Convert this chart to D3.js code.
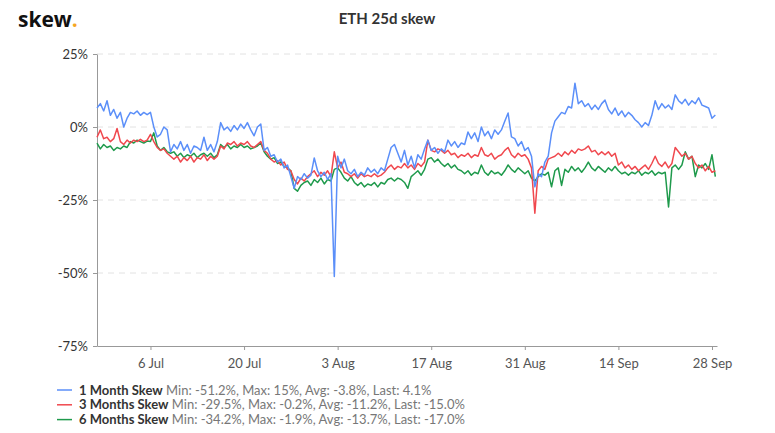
<!DOCTYPE html>
<html><head><meta charset="utf-8">
<script src="https://cdn.jsdelivr.net/npm/d3@7"></script>
<style>
body{margin:0;background:#fff;}
svg{font-family:Lato,"Open Sans",sans-serif;}
</style></head>
<body>
<svg id="c" width="775" height="433"></svg>
<script>
// ---- data (12-hour steps starting 2020-06-28 00:00) ----
const startDate = "2020-06-28T00:00:00";
const stepHours = 12;
const oneMonth = [6.5,8,5.5,9,4,6,3,5,0,3,5,4.5,5.5,4,5,4.2,5,0,-3.4,-2.5,0,-1,-8.5,-6,-7.5,-5,-8,-6,-9,-6.5,-7,-8,-3.5,-8,-6,-8.5,-5,1.5,-1,0,-1.5,0.5,-1,1,-0.5,1.5,-1,-3,0,1,-8,-7,-10,-9.5,-12,-11,-14,-13,-17,-21,-17,-18,-16,-17.5,-16.5,-10.6,-15,-17,-15.5,-18,-16,-51.2,-10,-14,-11,-15,-16,-14.5,-17,-15.5,-16.5,-14,-15.5,-14.5,-16,-14,-15,-11,-7,-6,-9,-12,-8,-13,-10,-14,-9.5,-11,-7.5,-4.5,-8,-7,-9,-7.5,-8.5,-4.5,-6.5,-5,-7,-5.5,-6,-1.7,-4,-2,-5,0,-3,-1.5,-4,-1,-2.5,-1,2,4.8,-3.4,-4,-6.5,-5,-8,-7,-10,-20.5,-16,-17,-12,-10,-2,2,3.5,5,4.5,7,6.5,15,8,9,7,8,6,7.5,6,8,9.2,6,4.5,6.5,4,5.5,3.5,5,4,2.5,1.5,0,1.5,0.5,4,9,6,8,6.5,7.5,6,11,9,8,9.5,7.5,9,8,10,7.5,7,6.5,3,4.1];
const threeMonths = [-3.5,-1,-4,-3.5,-5,-4,-0.5,-5,-6,-4.5,-5.5,-4.5,-5,-4.2,-5,-4.5,-2.5,-5,-7,-8,-7.5,-9,-10,-11,-10,-12,-10.5,-11.5,-10,-12,-10.5,-11,-9.5,-11.5,-10,-11,-10,-6.5,-7.5,-5.5,-6,-5,-6.5,-5.5,-6,-5,-6.5,-7,-6,-5,-8,-9,-11,-12,-11.5,-13,-12,-14.5,-15,-18,-19.5,-17.5,-18.5,-17,-16,-15,-17,-15.5,-16.5,-15,-17,-8.5,-14,-12,-15.5,-16,-17,-16,-17.5,-16,-17,-16.5,-17,-16,-17,-16.5,-15.5,-14,-13,-14.5,-13.5,-14,-12.5,-14,-13,-14.5,-12.5,-13.5,-12,-4.5,-8,-8.5,-7.5,-8,-9,-8,-9.5,-9,-10.5,-9.5,-10,-9,-10.5,-9.5,-10,-7,-9.5,-10,-9,-11,-10,-9.5,-8,-7,-9.5,-10.5,-9,-10,-9.5,-11,-14,-29.5,-15,-13.5,-14.5,-11,-10.5,-10,-9,-10,-8.5,-9.5,-8,-9,-7.5,-8,-7.5,-6.5,-8.5,-8,-9.5,-8.5,-9.5,-8.5,-10,-9,-13,-12,-14,-13,-14.5,-13.5,-15,-14,-13,-14.5,-12.5,-10,-12.5,-13.5,-12,-14,-12.5,-7,-8.5,-10,-9,-11,-10,-12.5,-14,-13,-15,-13.5,-15.5,-15];
const sixMonths = [-5.5,-7.5,-6,-7,-6.5,-8,-7,-7.5,-6.5,-7,-5,-5.5,-4.5,-5,-5.5,-4.8,-5,-2,-6.5,-8,-7,-8.5,-9,-8.5,-10,-9,-10.5,-9.5,-10,-9,-10.5,-9.5,-9,-10,-9,-10.5,-9.5,-6,-7,-6,-7.5,-6.5,-7,-6,-7,-6.5,-7.5,-7,-6.5,-5.5,-8.5,-10,-11,-10.5,-12.5,-12,-13.5,-14,-15,-21,-22,-20,-19,-18.5,-20,-18,-19,-17.5,-19.5,-18,-18.5,-14.5,-14,-15.5,-17.5,-18.5,-17,-19,-20,-19,-20.5,-19.5,-20,-19,-20.5,-19,-19.5,-18,-17.5,-18.5,-17.5,-18,-19,-21,-17,-16,-15,-16.5,-14.5,-11,-10.5,-12,-11,-12.5,-13.5,-12.5,-14,-13,-14.5,-15,-16,-15,-16.5,-15.5,-16,-13,-15.5,-16.5,-15,-16,-15.5,-16.5,-15,-13,-14.5,-15.5,-14,-15,-16,-15,-17.5,-18.5,-17,-16,-16.5,-15.5,-20.5,-15,-14,-20,-14.5,-15.5,-13.5,-15,-14,-15.5,-14,-12,-14,-15,-13.5,-14.5,-15.5,-14,-15,-13.5,-15,-16,-15.5,-16.5,-15.5,-16,-15,-16.5,-15.5,-16,-15,-16.5,-15.5,-16,-15.5,-27.4,-14,-13,-14.5,-13,-8.5,-11,-10,-17,-13,-14,-12.5,-14.5,-9.5,-17];
const seriesNames = ["1 Month Skew","3 Months Skew","6 Months Skew"];
const seriesStats = ["Min: -51.2%, Max: 15%, Avg: -3.8%, Last: 4.1%","Min: -29.5%, Max: -0.2%, Avg: -11.2%, Last: -15.0%","Min: -34.2%, Max: -1.9%, Avg: -13.7%, Last: -17.0%"];
const seriesColors = ["#5b8ff9","#f0484e","#1f9a4c"];
const xTickLabels = ["2020-07-06","2020-07-20","2020-08-03","2020-08-17","2020-08-31","2020-09-14","2020-09-28"];
const yTicks = [25,0,-25,-50,-75];
const title = "ETH 25d skew";

// ---- chart ----
const svg = d3.select("#c");
const t0 = new Date(startDate);
const toDate = i => new Date(t0.getTime() + i*stepHours*3600*1000);
const x = d3.scaleTime().domain([new Date("2020-06-28T00:00:00"), new Date("2020-09-28T18:00:00")]).range([97,717]);
const y = d3.scaleLinear().domain([-75,25]).range([346,54]);

// logo
const logo = svg.append("text").attr("x",18).attr("y",27).attr("font-size",21).attr("font-weight",700).attr("fill","#111").attr("font-family","'Open Sans',Lato,sans-serif");
logo.append("tspan").text("skew");
logo.append("tspan").attr("fill","#f5a623").text(".");

svg.append("text").attr("x",387).attr("y",24).attr("text-anchor","middle").attr("font-size",15).attr("font-weight",700).attr("fill","#333").text(title);

// grid
svg.append("g").selectAll("line").data(yTicks.filter(v=>v>-75)).join("line")
  .attr("x1",97).attr("x2",717).attr("y1",d=>y(d)).attr("y2",d=>y(d))
  .attr("stroke","#e2e2e2").attr("stroke-dasharray","6,5").attr("stroke-width",1);

// y axis
const ya = svg.append("g").attr("transform","translate(97,0)")
  .call(d3.axisLeft(y).tickValues(yTicks).tickFormat(d=>d+"%").tickSize(4).tickSizeOuter(0).tickPadding(5));
ya.select(".domain").attr("stroke","#999");
ya.selectAll(".tick line").attr("stroke","#999");
ya.selectAll("text").attr("font-size",13).attr("fill","#333").attr("font-family","Lato,sans-serif");

// x axis
const xa = svg.append("g").attr("transform","translate(0,346)")
  .call(d3.axisBottom(x).tickValues(xTickLabels.map(s=>new Date(s+"T00:00:00"))).tickFormat(d3.timeFormat("%-d %b")).tickSize(4).tickSizeOuter(0).tickPadding(9));
xa.select(".domain").attr("stroke","#999");
xa.selectAll(".tick line").attr("stroke","#999");
xa.selectAll("text").attr("font-size",13).attr("fill","#555").attr("font-family","Lato,sans-serif");

// lines
const allSeries = [oneMonth, threeMonths, sixMonths];
const line = d3.line().x((d,i)=>x(toDate(i))).y(d=>y(d));
[2,1,0].forEach(k=>{
  svg.append("path").datum(allSeries[k]).attr("d",line)
    .attr("fill","none").attr("stroke",seriesColors[k]).attr("stroke-width",1.5).attr("stroke-linejoin","round");
});

// legend
seriesNames.forEach((n,k)=>{
  const yy = 390 + k*14.8;
  svg.append("line").attr("x1",57).attr("x2",72).attr("y1",yy).attr("y2",yy).attr("stroke",seriesColors[k]).attr("stroke-width",1.5);
  const t = svg.append("text").attr("x",79).attr("y",yy+4.5).attr("font-size",13);
  t.append("tspan").attr("font-weight",700).attr("fill","#333").text(n);
  t.append("tspan").attr("fill","#777").text(" "+seriesStats[k]);
});
</script>
</body></html>
